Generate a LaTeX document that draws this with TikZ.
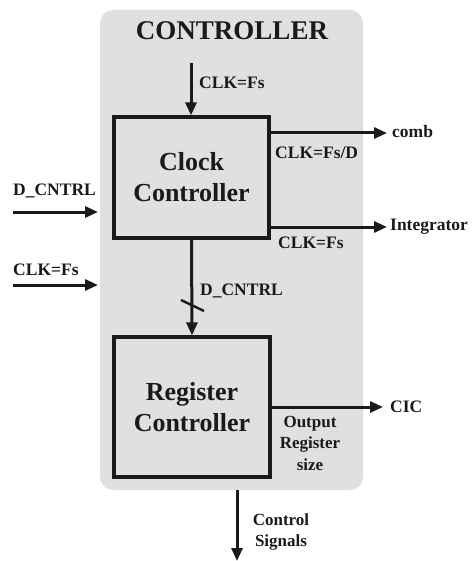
\documentclass[tikz,border=0pt]{standalone}
\usepackage{fontspec}
\setmainfont{Liberation Serif}
\usetikzlibrary{arrows.meta}
\definecolor{panel}{HTML}{E0E0E0}
\definecolor{ink}{HTML}{1A1A1A}
\tikzset{
  wire/.style={line width=3pt, draw=ink, -{Triangle[length=13pt,width=11pt]}},
  block/.style={draw=ink, line width=3.2pt, fill=panel, inner sep=0pt,
    font=\fontsize{26}{31}\selectfont\bfseries, text=ink, align=center},
  lbl/.style={font=\fontsize{17.5}{21}\selectfont\bfseries, text=ink, inner sep=0pt, align=center},
}
\begin{document}
\begin{tikzpicture}[x=1pt,y=-1pt]
\useasboundingbox (0,0) rectangle (471,561);
% controller panel
\fill[panel, rounded corners=13pt] (100,10) rectangle (363,490);
\node[font=\fontsize{27}{30}\selectfont\bfseries, text=ink] (title) at (232,31) {CONTROLLER};

% blocks
\node[block, minimum width=155pt, minimum height=121pt] (clk) at (191.5,177.5) {Clock\\Controller};
\node[block, minimum width=156pt, minimum height=140pt] (reg) at (192,407) {Register\\Controller};

% free ends of the connectors
\coordinate (topin) at (191,63);
\coordinate (dcin) at (13,212);
\coordinate (clkin) at (13,285);
\coordinate (dcend) at (98,212);
\coordinate (clkend) at (98,285);
\coordinate (combend) at (387,133);
\coordinate (intend) at (387,227);
\coordinate (cicend) at (383,407);
\coordinate (ctlstart) at (237,490);
\coordinate (ctlend) at (237,561);

% connectors
\draw[wire] (topin) -- (topin |- clk.north);
\draw[wire] (dcin) -- (dcend);
\draw[wire] (clkin) -- (clkend);
\draw[wire] (clk.east |- combend) -- (combend);
\draw[wire] (clk.east |- intend) -- (intend);
\draw[wire] (clk.south) -- (reg.north);
\draw[line width=2.4pt, draw=ink] (181,300) -- (204,311);
\draw[wire] (reg.east |- cicend) -- (cicend);
\draw[wire] (ctlstart) -- (ctlend);

% labels
\node[lbl, anchor=west] (l1) at (199,83) {CLK=Fs};
\node[lbl, anchor=west] (l2) at (275,153) {CLK=Fs/D};
\node[lbl, anchor=west] (l3) at (278,243) {CLK=Fs};
\node[lbl, anchor=west] (l4) at (13,191) {D\_CNTRL};
\node[lbl, anchor=west] (l5) at (13,270) {CLK=Fs};
\node[lbl, anchor=west] (l6) at (200,291) {D\_CNTRL};
\node[lbl, anchor=west] (l7) at (392,132) {comb};
\node[lbl, anchor=west] (l8) at (390,227) {Integrator};
\node[lbl, anchor=west] (l9) at (390,407) {CIC};
\node[lbl, font=\fontsize{17}{21.5}\selectfont\bfseries] (l10) at (310,443) {Output\\Register\\size};
\node[lbl, font=\fontsize{17}{21.5}\selectfont\bfseries] (l11) at (281,532) {Control\\Signals};
\end{tikzpicture}
\end{document}
